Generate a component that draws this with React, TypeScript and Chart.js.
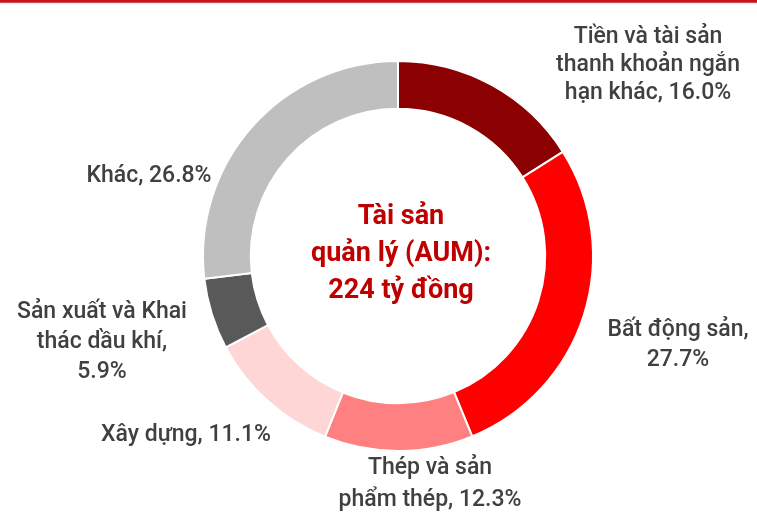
import React, { useEffect, useRef } from "react";
import { Chart, registerables } from "chart.js";

Chart.register(...registerables);

const categories = [
  "Tiền và tài sản thanh khoản ngắn hạn khác",
  "Bất động sản",
  "Thép và sản phẩm thép",
  "Xây dựng",
  "Sản xuất và Khai thác dầu khí",
  "Khác",
];
const values = [16.0, 27.7, 12.3, 11.1, 5.9, 26.8];
const labelLines = [
  ["Tiền và tài sản", "thanh khoản ngắn", "hạn khác, 16.0%"],
  ["Bất động sản,", "27.7%"],
  ["Thép và sản", "phẩm thép, 12.3%"],
  ["Xây dựng, 11.1%"],
  ["Sản xuất và Khai", "thác dầu khí,", "5.9%"],
  ["Khác, 26.8%"],
];
const centerLines = ["Tài sản", "quản lý (AUM):", "224 tỷ đồng"];

const colors = ["#8B0000", "#FF0000", "#FF8080", "#FFD6D6", "#595959", "#BFBFBF"];
// label anchor positions (centre x, first line centre y)
const labelPos = [
  [648, 37],
  [678, 330],
  [430, 468],
  [186, 435],
  [102, 312],
  [149, 176],
];
const lineHeights = [28, 30, 32, 30, 30, 30];

export default function App() {
  const ref = useRef<HTMLCanvasElement>(null);
  useEffect(() => {
    document.body.style.margin = "0";
    const labelPlugin = {
      id: "labels",
      afterDraw(chart: any) {
        const ctx = chart.ctx;
        ctx.save();
        const g = ctx.createLinearGradient(0, 0, 0, 5);
        g.addColorStop(0, "#C8101A");
        g.addColorStop(0.45, "#C8101A");
        g.addColorStop(0.6, "#D9D9D9");
        g.addColorStop(1, "rgba(255,255,255,0)");
        ctx.fillStyle = g;
        ctx.fillRect(0, 0, chart.width, 5);

        ctx.textAlign = "center";
        ctx.textBaseline = "middle";
        ctx.fillStyle = "#404040";
        ctx.font = "500 23px Roboto";
        labelLines.forEach((lines, i) => {
          const [x, y] = labelPos[i];
          lines.forEach((t, j) => ctx.fillText(t, x, y + j * lineHeights[i]));
        });
        const meta = chart.getDatasetMeta(0);
        const arc = meta.data[0];
        const cx = arc.x;
        const cy = arc.y;
        ctx.fillStyle = "#C00000";
        ctx.font = "bold 27px Roboto";
        centerLines.forEach((t, j) => ctx.fillText(t, cx + 3, cy - 39 + j * 37));
        ctx.restore();
      },
    };
    const chart = new Chart(ref.current!, {
      type: "doughnut",
      data: {
        labels: categories,
        datasets: [
          {
            data: values,
            backgroundColor: colors,
            borderColor: "#FFFFFF",
            borderWidth: 2,
          },
        ],
      },
      options: {
        animation: false,
        responsive: false,
        cutout: "75.5%",
        layout: { padding: { left: 202, right: 163, top: 60, bottom: 61 } },
        plugins: { legend: { display: false }, tooltip: { enabled: false } },
      },
      plugins: [labelPlugin],
    });
    return () => chart.destroy();
  }, []);
  return <canvas ref={ref} width={757} height={513} style={{ display: "block" }} />;
}
